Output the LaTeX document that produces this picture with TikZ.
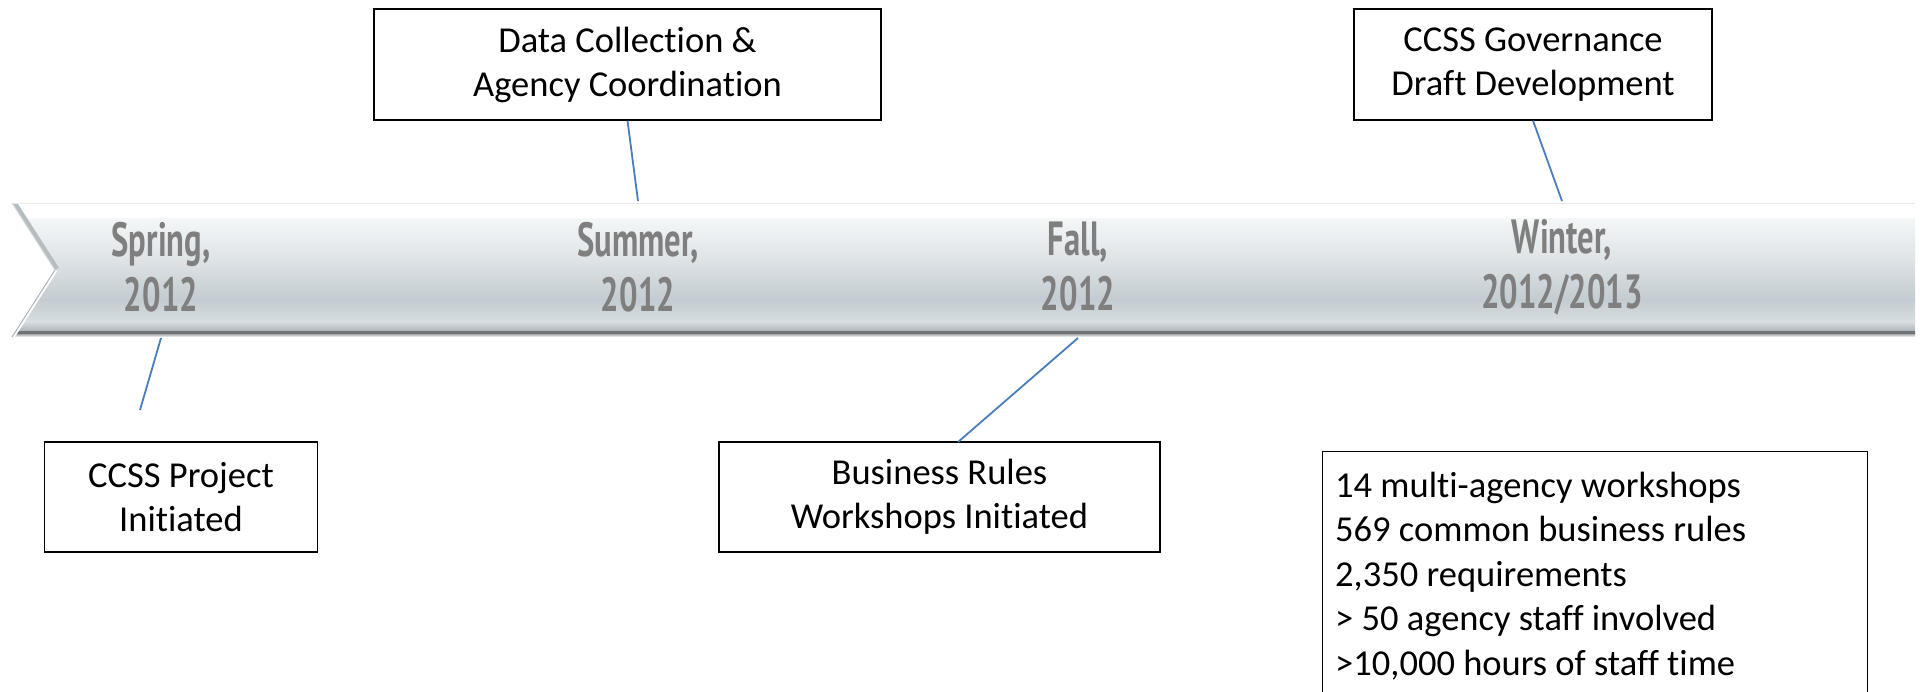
\documentclass[tikz,border=0pt]{standalone}
\usepackage{fontspec}
\setmainfont{Carlito}[Ligatures=NoCommon]
\newfontfamily\bandfont{PT Sans}[FakeStretch=0.68]
\definecolor{linkblue}{HTML}{4A7EBB}
\definecolor{bandtxt}{HTML}{7F7F7F}
\definecolor{bA}{HTML}{F4F7F8}
\definecolor{bB}{HTML}{DEE3E6}
\definecolor{bC}{HTML}{C3CCD1}
\definecolor{bD}{HTML}{D8DEE1}
\definecolor{bE}{HTML}{AEB4B8}
\definecolor{bF}{HTML}{6F7376}
\definecolor{bG}{HTML}{B4B7B9}
\tikzset{
  box/.style={draw=black, line width=1.2pt, fill=white, align=center,
    font=\fontsize{36.5}{44}\selectfont, inner sep=0pt},
  season/.style={text=bandtxt, align=center, inner sep=0pt,
    font=\bandfont\bfseries\fontsize{48}{55}\selectfont},
  link/.style={draw=linkblue, line width=1.8pt},
}
\begin{document}
\begin{tikzpicture}[x=1pt,y=-1pt]
\useasboundingbox (0,0) rectangle (1925,691);
% ---- band ----
\begin{scope}
  \clip (12,203) -- (1915,203) -- (1915,337) -- (12,337) -- (55,270) -- cycle;
  \fill[white] (0,203) rectangle (1925,219);
  \shade[top color=bA, bottom color=bB] (0,218.5) rectangle (1925,260);
  \shade[top color=bB, bottom color=bC] (0,259.5) rectangle (1925,300);
  \shade[top color=bC, bottom color=bD] (0,299.5) rectangle (1925,322);
  \shade[top color=bD, bottom color=bE] (0,321.5) rectangle (1925,331);
  \fill[bF] (0,331) rectangle (1925,334.5);
  \shade[top color=bG, bottom color=white] (0,334.5) rectangle (1925,337);
  \draw[line width=9pt, color=bC!80!gray] (12,203) -- (55,270);
  \draw[line width=5pt, color=white] (55,270) -- (12,337);
\end{scope}
\draw[line width=0.8pt, color=black!8] (12,203) -- (1915,203);
\draw[line width=1pt, color=bE] (55,270) -- (12,337);
\draw[line width=1pt, color=black!15] (12,203) -- (55,270);
% ---- season labels ----
\node[season] (spring) at (161,267) {Spring,\\2012};
\node[season] (summer) at (638,267) {Summer,\\2012};
\node[season] (fall)   at (1078,267) {Fall,\\2012};
\node[season] (winter) at (1562,267) {Winter,\\2012/2013};
\coordinate (bandtop) at (0,201);
\coordinate (bandbot) at (0,338);
% ---- boxes ----
\node[box, minimum width=507pt, minimum height=111pt] (dc) at (627.5,64.5) {Data Collection \&\\Agency Coordination};
\node[box, minimum width=358pt, minimum height=111pt] (gov) at (1533,64.5) {CCSS Governance\\Draft Development};
\node[box, minimum width=273pt, minimum height=110pt] (ccss) at (181,497) {CCSS Project\\Initiated};
\node[box, minimum width=441pt, minimum height=110pt] (br) at (939.5,497) {Business Rules\\Workshops Initiated};
\begin{scope}
  \clip (0,0) rectangle (1925,691);
  \node[draw=black, line width=1.2pt, minimum width=545pt, minimum height=290pt,
        anchor=north west, inner sep=0pt] (stats) at (1322,451) {};
\end{scope}
\node[anchor=north west, align=left, inner sep=0pt,
      font=\fontsize{36.5}{44.5}\selectfont] (statstext) at (1335,471.5)
  {14 multi-agency workshops\\569 common business rules\\2,350 requirements\\> 50 agency staff involved\\>10,000 hours of staff time};
% ---- connectors ----
\coordinate (ccssend) at (140,410);
\coordinate (brend) at (958,442);
\draw[link] (dc.south) -- (summer |- bandtop);
\draw[link] (gov.south) -- (winter |- bandtop);
\draw[link] (spring |- bandbot) -- (ccssend);
\draw[link] (fall |- bandbot) -- (brend);
\end{tikzpicture}
\end{document}
